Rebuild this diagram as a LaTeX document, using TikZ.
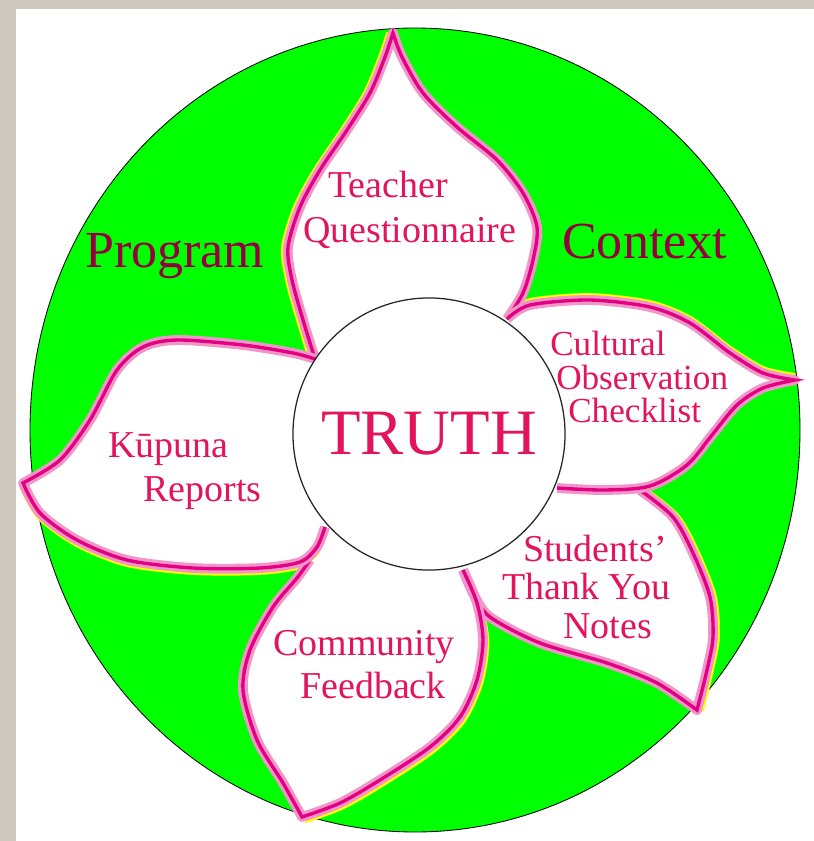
\documentclass[tikz,border=0pt]{standalone}
\usepackage{fontspec}
\setmainfont{Liberation Serif}
\definecolor{green1}{RGB}{0,255,0}
\definecolor{pink1}{RGB}{228,0,130}
\definecolor{pink2}{RGB}{240,150,200}
\definecolor{red1}{RGB}{226,20,92}
\definecolor{wine1}{RGB}{150,0,65}
\definecolor{stone1}{RGB}{206,200,192}
\definecolor{yellow1}{RGB}{255,255,0}
\tikzset{
  leaf/.style={fill=white},
  rim/.style={preaction={draw=pink2, line width=7pt, line join=round}, draw=pink1, line width=2.4pt, line join=miter},
  glow/.style={draw=yellow1, line width=5.5pt, line join=round},
  lbl/.style={anchor=base west, inner sep=0pt, text=red1, font=\fontsize{27}{30}\selectfont},
  small/.style={lbl, font=\fontsize{25}{27}\selectfont},
  big/.style={anchor=base west, inner sep=0pt, text=wine1, font=\fontsize{37}{40}\selectfont},
}

\begin{document}
\begin{tikzpicture}[x=0.025cm, y=-0.025cm]
  \useasboundingbox (0,0) rectangle (814,841);
  \fill[stone1] (0,0) rectangle (814,841);
  \fill[white] (16,9) rectangle (814,841);
  \draw[fill=green1, line width=0.6pt] (415,430) ellipse [x radius=385, y radius=402];

  % petals
  \path[leaf] plot[smooth] coordinates {(315,359) (303,320) (292,280) (288,247) (300,207) (320,170) (347,130) (370,93) (385,57) (393,33)}
    -- plot[smooth] coordinates {(393,33) (402,57) (423,93) (457,127) (497,160) (523,193) (537,227) (533,260) (523,293) (507,319)} -- (429,434) -- cycle;
  \path[leaf] plot[smooth] coordinates {(463,570) (473,593) (490,617) (540,643) (607,663) (657,683) (697,710)}
    -- plot[smooth] coordinates {(697,710) (707,670) (713,637) (710,597) (693,553) (673,517) (640,490)} -- (557,488) -- (429,434) -- cycle;
  \path[leaf] plot[smooth] coordinates {(507,319) (530,305) (590,300) (650,307) (690,323) (730,353) (763,373) (795,380)}
    -- plot[smooth] coordinates {(795,380) (763,388) (737,405) (712,435) (687,465) (650,486) (605,490) (557,488)} -- (429,434) -- cycle;
  \path[leaf] plot[smooth] coordinates {(463,570) (477,603) (483,640) (477,680) (460,717) (430,747) (380,780) (340,803) (302,817)}
    -- plot[smooth] coordinates {(302,817) (283,783) (257,740) (243,690) (250,650) (273,607) (297,578) (310,560)} -- (325,527) -- (429,434) -- cycle;
  \path[leaf] plot[smooth] coordinates {(315,359) (293,353) (243,345) (177,340) (143,347) (117,370) (90,420) (60,460) (23,483)}
    -- plot[smooth] coordinates {(23,483) (40,513) (77,540) (127,560) (193,568) (260,568) (300,562) (317,547) (325,527)} -- (429,434) -- cycle;

  % yellow light on the outer side
  \draw[glow, shift={(-3,0)}] plot[smooth] coordinates {(315,359) (303,320) (292,280) (288,247) (300,207) (320,170) (347,130) (370,93) (385,57) (393,33)};
  \draw[glow, shift={(0,-3)}] plot[smooth] coordinates {(507,319) (530,305) (590,300) (650,307) (690,323) (730,353) (763,373) (795,380)};
  \draw[glow, shift={(3,0)}] plot[smooth] coordinates {(697,710) (707,670) (713,637) (710,597) (693,553) (673,517) (640,490)};
  \draw[glow, shift={(2.5,2.5)}] plot[smooth] coordinates {(477,603) (483,640) (477,680) (460,717) (430,747) (380,780) (340,803) (302,817)};
  \draw[glow, shift={(0,3)}] plot[smooth] coordinates {(23,483) (40,513) (77,540) (127,560) (193,568) (260,568) (300,562) (317,547)};

  \draw[rim] plot[smooth] coordinates {(315,359) (303,320) (292,280) (288,247) (300,207) (320,170) (347,130) (370,93) (385,57) (393,33)}
    -- plot[smooth] coordinates {(393,33) (402,57) (423,93) (457,127) (497,160) (523,193) (537,227) (533,260) (523,293) (507,319)};
  \draw[rim] plot[smooth] coordinates {(463,570) (473,593) (490,617) (540,643) (607,663) (657,683) (697,710)}
    -- plot[smooth] coordinates {(697,710) (707,670) (713,637) (710,597) (693,553) (673,517) (640,490)};
  \draw[rim] plot[smooth] coordinates {(507,319) (530,305) (590,300) (650,307) (690,323) (730,353) (763,373) (795,380)}
    -- plot[smooth] coordinates {(795,380) (763,388) (737,405) (712,435) (687,465) (650,486) (605,490) (557,488)};
  \draw[rim] plot[smooth] coordinates {(463,570) (477,603) (483,640) (477,680) (460,717) (430,747) (380,780) (340,803) (302,817)}
    -- plot[smooth] coordinates {(302,817) (283,783) (257,740) (243,690) (250,650) (273,607) (297,578) (310,560)};
  \draw[rim] plot[smooth] coordinates {(315,359) (293,353) (243,345) (177,340) (143,347) (117,370) (90,420) (60,460) (23,483)}
    -- plot[smooth] coordinates {(23,483) (40,513) (77,540) (127,560) (193,568) (260,568) (300,562) (317,547) (325,527)};

  \node[circle, draw=black!85, fill=white, line width=0.9pt, minimum size=6.8cm, inner sep=0pt,
        text=red1, font=\fontsize{46}{50}\selectfont] (truth) at (429,434) {TRUTH};

  \node[big] (program) at (85,267) {Program};
  \node[big] (context) at (562,258) {Context};

  \node[lbl] (teacher) at (328,197) {Teacher};
  \node[lbl] (quest) at (303,242) {Questionnaire};
  \node[small] (cultural) at (550,355) {Cultural};
  \node[small] (observ) at (556,389) {Observation};
  \node[small] (checklist) at (568,422) {Checklist};
  \node[lbl] (students) at (523,561) {Students’};
  \node[lbl] (thankyou) at (502,599) {Thank You};
  \node[lbl] (notes) at (563,638) {Notes};
  \node[lbl] (community) at (273,655) {Community};
  \node[lbl] (feedback) at (300,698) {Feedback};
  \node[lbl] (kupuna) at (108,457) {Kūpuna};
  \node[lbl] (reports) at (143,501) {Reports};
\end{tikzpicture}
\end{document}
